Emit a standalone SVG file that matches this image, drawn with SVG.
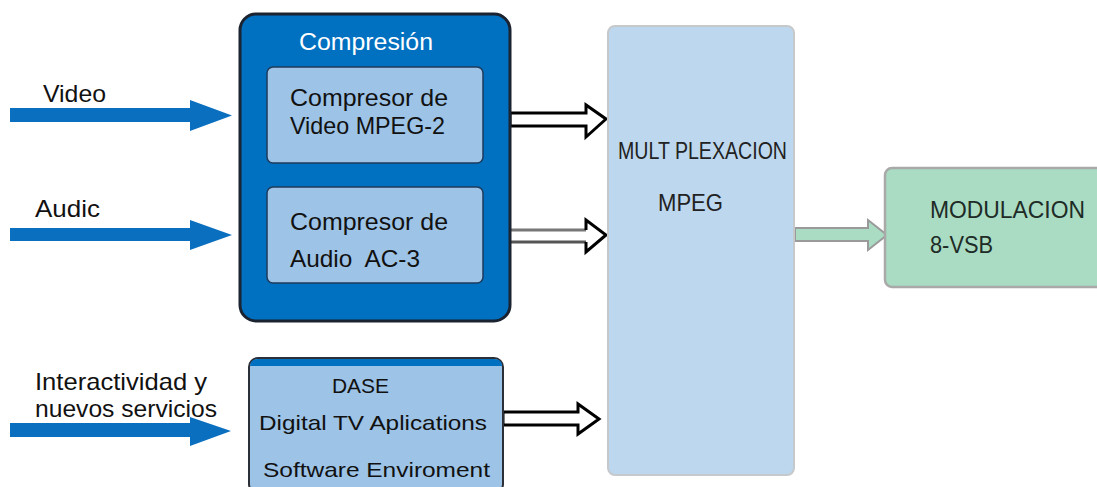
<svg xmlns="http://www.w3.org/2000/svg" width="1097" height="487" viewBox="0 0 1097 487">
<style>
  text { font-family: "Liberation Sans", Arial, sans-serif; fill: #111; }
  .lbl { font-size: 24px; }
  .in { font-size: 24px; }
  .blue { fill: #0a6fbf; }
  .hollow { fill: #fff; stroke: #000; stroke-width: 3; stroke-linejoin: miter; }
</style>
<rect width="1097" height="487" fill="#fff"/>
<g id="connectors">
  <polygon class="blue" points="10,108 190,108 190,100 232,115.5 190,131 190,122 10,122"/>
  <polygon class="blue" points="10,228 190,228 190,220 232,235 190,250 190,241 10,241"/>
  <polygon class="blue" points="10,423 190,423 190,417 231,431 190,446 190,437 10,437"/>
  <polygon class="hollow" points="510,113 586,113 586,105 606,119 586,137 586,126 510,126"/>
  <g>
    <polygon points="510,230 586,230 586,220 606,235 586,252 586,242 510,242" fill="#fff" stroke="none"/>
    <polyline points="510,230 586,230" fill="none" stroke="#777" stroke-width="3"/>
    <polyline points="510,242 586,242" fill="none" stroke="#555" stroke-width="3"/>
    <polyline points="586,230 586,220 606,235 586,252 586,242" fill="none" stroke="#000" stroke-width="3"/>
  </g>
  <polygon class="hollow" points="503,412 578,412 578,404 599,419 578,434 578,425 503,425"/>
  <polygon points="795,228 868,228 868,220 887,235 868,250 868,241 795,241" fill="#a9dcc3" stroke="#9a9a9a" stroke-width="2"/>
</g>
<g id="video-label"><text class="lbl" x="43" y="102" textLength="63" lengthAdjust="spacingAndGlyphs">Video</text></g>
<g id="audio-label"><text class="lbl" x="35" y="217" textLength="65" lengthAdjust="spacingAndGlyphs">Audic</text></g>
<g id="interactividad-label">
  <text class="lbl" x="35" y="390" textLength="172" lengthAdjust="spacingAndGlyphs">Interactividad y</text>
  <text class="lbl" x="35" y="417" textLength="182" lengthAdjust="spacingAndGlyphs">nuevos servicios</text>
</g>
<g id="compresion">
  <rect x="240" y="14" width="270" height="307" rx="16" fill="#0070c0" stroke="#1b2330" stroke-width="3"/>
  <text x="299" y="50" font-size="23" style="fill:#fff" textLength="134" lengthAdjust="spacingAndGlyphs">Compresión</text>
</g>
<g id="compresor-video">
  <rect x="267" y="67" width="216" height="96" rx="6" fill="#9dc3e6" stroke="#1f3b5c" stroke-width="1.5"/>
  <text class="in" x="290" y="106" textLength="158" lengthAdjust="spacingAndGlyphs">Compresor de</text>
  <text class="in" x="290" y="134" textLength="155" lengthAdjust="spacingAndGlyphs">Video MPEG-2</text>
</g>
<g id="compresor-audio">
  <rect x="267" y="187" width="216" height="96" rx="6" fill="#9dc3e6" stroke="#1f3b5c" stroke-width="1.5"/>
  <text class="in" x="290" y="230" textLength="158" lengthAdjust="spacingAndGlyphs">Compresor de</text>
  <text class="in" x="290" y="267" textLength="130" lengthAdjust="spacingAndGlyphs" xml:space="preserve">Audio  AC-3</text>
</g>
<g id="dase">
  <rect x="249" y="358" width="254" height="135" rx="9" fill="#9dc3e6" stroke="#2a2f38" stroke-width="2"/>
  <path d="M250,366 Q250,359 258,359 L494,359 Q502,359 502,366 Z" fill="#0070c0"/>
  <text x="332" y="393" font-size="21" textLength="57" lengthAdjust="spacingAndGlyphs">DASE</text>
  <text x="259" y="430" font-size="21" textLength="228" lengthAdjust="spacingAndGlyphs">Digital TV Aplications</text>
  <text x="263" y="477" font-size="21" textLength="227" lengthAdjust="spacingAndGlyphs">Software Enviroment</text>
</g>
<g id="multiplexacion">
  <rect x="608" y="26" width="186" height="449" rx="7" fill="#bdd7ee" stroke="#c6c9cc" stroke-width="2"/>
  <text x="618" y="159" font-size="24" style="fill:#222" textLength="169" lengthAdjust="spacingAndGlyphs">MULT PLEXACION</text>
  <text x="658" y="211" font-size="24" style="fill:#222" textLength="65" lengthAdjust="spacingAndGlyphs">MPEG</text>
</g>
<g id="modulacion">
  <rect x="885" y="168" width="225" height="119" rx="7" fill="#a9dcc3" stroke="#a9a9a9" stroke-width="2.5"/>
  <text x="930" y="218" font-size="24" style="fill:#1e2b26" textLength="155" lengthAdjust="spacingAndGlyphs">MODULACION</text>
  <text x="930" y="253" font-size="24" style="fill:#1e2b26" textLength="63" lengthAdjust="spacingAndGlyphs">8-VSB</text>
</g>
</svg>
